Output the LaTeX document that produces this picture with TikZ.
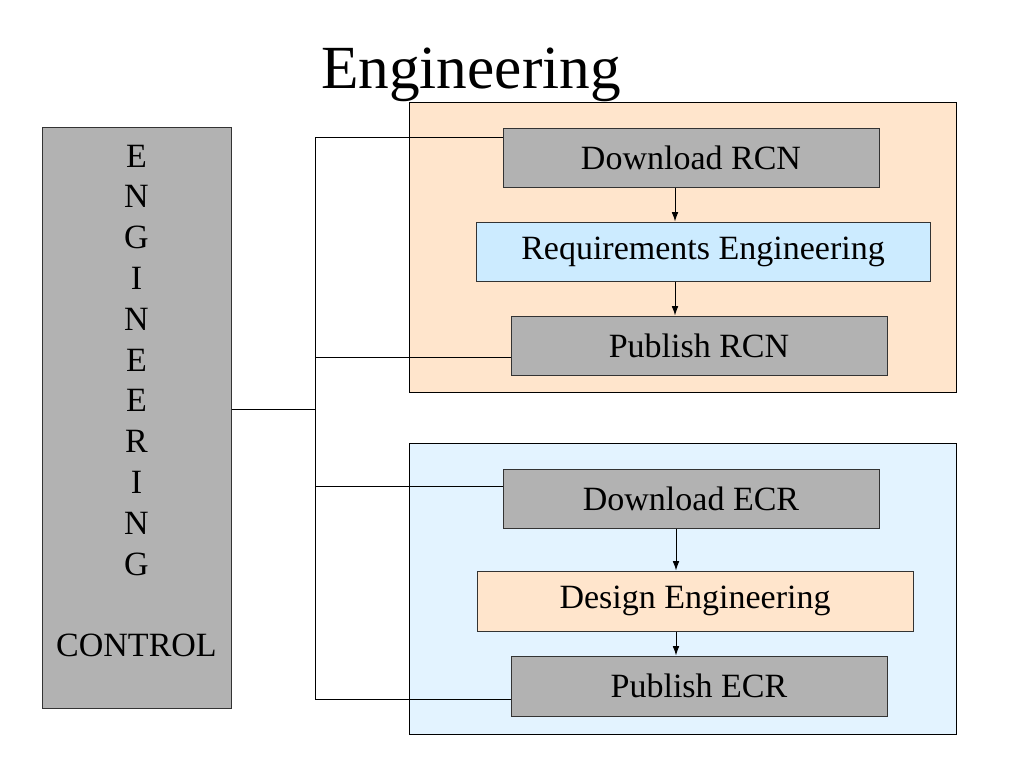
\documentclass[tikz,border=0pt]{standalone}
\usepackage{fontspec}
\setmainfont{Liberation Serif}
\usetikzlibrary{arrows.meta,positioning}

\definecolor{boxgray}{HTML}{B2B2B2}
\definecolor{peach}{HTML}{FFE5CC}
\definecolor{skyblue}{HTML}{CCEBFF}
\definecolor{paleblue}{HTML}{E3F3FF}

\tikzset{
  stepbox/.style={draw=black!80, line width=0.75pt, fill=boxgray, inner sep=0pt,
    minimum height=44.25pt, node font=\fontsize{25.5}{30.6}\selectfont},
  groupbox/.style={draw=black, line width=0.75pt, inner sep=0pt,
    minimum width=410.25pt, minimum height=217.5pt},
  link/.style={draw=black, line width=0.75pt},
  flow/.style={link, -{Latex[length=7pt,width=5pt]}}
}

\begin{document}
\begin{tikzpicture}[x=0.75pt, y=-0.75pt]

                \useasboundingbox (0,0) rectangle (1024,768);

                % Title
                \node[anchor=base, inner sep=0pt, node font=\fontsize{46}{55}\selectfont] (title) at (471,88) {Engineering};

                % Control column
                \node[stepbox, minimum width=141.75pt, minimum height=435.75pt] (control) at (136.5,417.5) {};
                \node[below=13.5pt of control.north, inner sep=0pt, align=center,
                  node font=\fontsize{25.5}{30.6}\selectfont] (ctrltext)
                  {E\\N\\G\\I\\N\\E\\E\\R\\I\\N\\G\\ \\CONTROL};

                % Containers
                \node[groupbox, fill=peach] (rcnbox) at (682.5,247) {};
                \node[groupbox, fill=paleblue, minimum height=218.25pt] (ecrbox) at (682.5,588.5) {};

                % RCN steps
                \node[stepbox, minimum width=282pt] (dlrcn) at (691,157.5) {Download RCN};
                \node[stepbox, minimum width=340.5pt, fill=skyblue] (reqeng) at (703,251.5) {Requirements Engineering};
                \node[stepbox, minimum width=282pt] (pubrcn) at (699,345.5) {Publish RCN};

                % ECR steps
                \node[stepbox, minimum width=282pt] (dlecr) at (691,498.5) {Download ECR};
                \node[stepbox, minimum width=327pt, minimum height=45pt, fill=peach] (deseng) at (695,601) {Design Engineering};
                \node[stepbox, minimum width=282pt, minimum height=45pt] (pubecr) at (699,686) {Publish ECR};

                % Tree
                \coordinate (hub) at (315,409);
                \coordinate (t1) at (315,137);
                \coordinate (t2) at (315,357);
                \coordinate (t3) at (315,486);
                \coordinate (t4) at (315,699);
                \draw[link] (control.east |- hub) -- (hub);
                \draw[link] (t1) -- (t4);
                \draw[link] (t1) -- (t1 -| dlrcn.west);
                \draw[link] (t2) -- (t2 -| pubrcn.west);
                \draw[link] (t3) -- (t3 -| dlecr.west);
                \draw[link] (t4) -- (t4 -| pubecr.west);

                % Arrows
                \coordinate (ax) at (675,0);
                \coordinate (bx) at (676,0);
                \draw[flow] (ax |- dlrcn.south) -- (ax |- reqeng.north);
                \draw[flow] (ax |- reqeng.south) -- (ax |- pubrcn.north);
                \draw[flow] (bx |- dlecr.south) -- (bx |- deseng.north);
                \draw[flow] (bx |- deseng.south) -- (bx |- pubecr.north);

\end{tikzpicture}
\end{document}
